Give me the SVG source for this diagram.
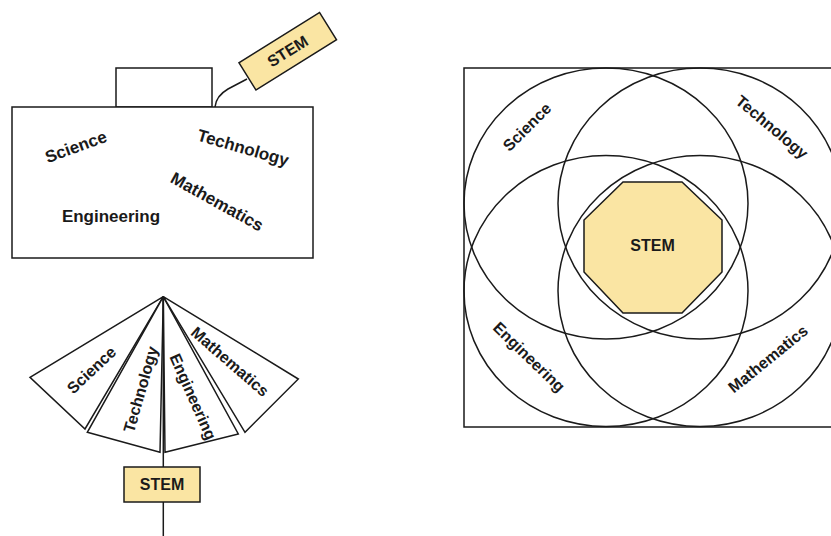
<svg xmlns="http://www.w3.org/2000/svg" width="831" height="536" viewBox="0 0 831 536">
  <style>
    .shape { fill: #ffffff; stroke: #1a1a1a; stroke-width: 1.5; }
    .hollow { fill: none; stroke: #1a1a1a; stroke-width: 1.5; }
    .stem { fill: #fae5a3; stroke: #1a1a1a; stroke-width: 1.5; }
    .label { font-family: "Liberation Sans", Arial, sans-serif; font-weight: bold; font-size: 16px; fill: #1a1a1a; text-anchor: middle; dominant-baseline: central; }
    .big { font-size: 17px; }
    .conn { fill: none; stroke: #1a1a1a; stroke-width: 1.5; }
  </style>
  <rect width="831" height="536" fill="#ffffff"/>

  <!-- Top-left: box with lid and STEM tag -->
  <g id="box-lid"><rect class="shape" x="116" y="68" width="96" height="39"/></g>
  <g id="box-body">
    <rect class="shape" x="12" y="107" width="301" height="151"/>
    <text class="label big" transform="translate(76,147) rotate(-20)">Science</text>
    <text class="label big" transform="translate(243,148) rotate(16)">Technology</text>
    <text class="label big" transform="translate(217,202) rotate(29)">Mathematics</text>
    <text class="label big" x="111" y="216">Engineering</text>
  </g>
  <g id="box-tag" transform="translate(287.75,51.25) rotate(-32)">
    <rect class="stem" x="-47.5" y="-16" width="95" height="32"/>
    <text class="label" x="0" y="0">STEM</text>
  </g>

  <!-- Bottom-left: fan of four blades -->
  <g id="fan-science">
    <polygon class="shape" points="163.3,296.7 30,377.3 85,429"/>
    <text class="label" transform="translate(91.5,370) rotate(-43)">Science</text>
  </g>
  <g id="fan-technology">
    <polygon class="shape" points="163.3,296.7 87.3,432.3 160,452.3"/>
    <text class="label" transform="translate(140.7,389.3) rotate(-74)">Technology</text>
  </g>
  <g id="fan-engineering">
    <polygon class="shape" points="163.3,296.7 165,452.3 238.3,434"/>
    <text class="label" transform="translate(193,396.7) rotate(66)">Engineering</text>
  </g>
  <g id="fan-mathematics">
    <polygon class="shape" points="163.3,296.7 245,432.3 298.3,379"/>
    <text class="label" transform="translate(230,361.7) rotate(41)">Mathematics</text>
  </g>

  <!-- Connectors -->
  <g id="connectors">
    <path class="conn" d="M247,79 L228,89 Q216,96 215,107"/>
    <line class="conn" x1="163.3" y1="296.7" x2="163.3" y2="536"/>
  </g>

  <g id="fan-stem">
    <rect class="stem" x="124" y="467" width="76" height="35"/>
    <text class="label" x="162" y="484.5">STEM</text>
  </g>

  <!-- Right: four overlapping sets around STEM -->
  <g id="venn-frame"><rect class="hollow" x="464" y="68" width="368" height="359"/></g>
  <g id="venn-core">
    <polygon class="stem" points="623,182 682,182 722,220 722,272 682,313 623,313 584,272 584,220"/>
    <text class="label" x="652.5" y="245">STEM</text>
  </g>
  <g id="venn-science">
    <ellipse class="hollow" cx="606" cy="203.5" rx="142" ry="135.5"/>
    <text class="label" transform="translate(527,127) rotate(-45)">Science</text>
  </g>
  <g id="venn-technology">
    <ellipse class="hollow" cx="700" cy="203.5" rx="142" ry="135.5"/>
    <text class="label" transform="translate(772,127) rotate(40)">Technology</text>
  </g>
  <g id="venn-engineering">
    <ellipse class="hollow" cx="606" cy="291" rx="142" ry="135.5"/>
    <text class="label" transform="translate(529,357) rotate(44)">Engineering</text>
  </g>
  <g id="venn-mathematics">
    <ellipse class="hollow" cx="700" cy="291" rx="142" ry="135.5"/>
    <text class="label" transform="translate(768,359) rotate(-39)">Mathematics</text>
  </g>
</svg>
